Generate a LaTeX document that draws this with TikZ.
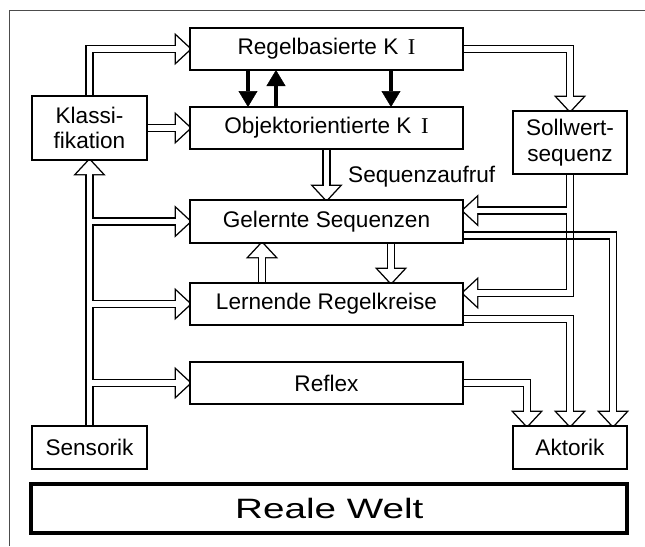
\documentclass[tikz,border=0pt]{standalone}
\usepackage{graphicx}
\usepackage{fontspec}
\setmainfont{Liberation Sans}
\newfontfamily\serI{Liberation Serif}
\usetikzlibrary{calc,arrows.meta}
\pgfdeclarelayer{bg}
\pgfsetlayers{bg,main}
\newcommand\hd[3]{\path[#1, shift={(#2)}, rotate=#3] (0,0) -- (-14,13) -- (-14,-13) -- cycle;}
\newcommand\pipes[2]{%
 \draw[#1] (sens.north) -- (klass.south);
 \draw[#1] (sens.north) |- (gel.west);
 \draw[#1] (sens.north) |- (lern.west);
 \draw[#1] (sens.north) |- (refl.west);
 \draw[#1] (klass.north) |- (regel.west);
 \draw[#1] (klass.east) -- (obj.west);
 \draw[#1] (regel.east) -| (soll.north);
 \draw[#1] (soll.south) |- (gin);
 \draw[#1] (soll.south) |- (lin);
 \draw[#1] (obj.south) -- (gel.north);
 \draw[#1] (gdn) -- (ldn);
 \draw[#1] (lup) -- (gup);
 \draw[#1] (gout) -| (a3);
 \draw[#1] (lout) -| (akt.north);
 \draw[#1] (refl.east) -| (a1);
 \hd{#2}{klass.south}{90}
 \hd{#2}{gel.west}{0}
 \hd{#2}{lern.west}{0}
 \hd{#2}{refl.west}{0}
 \hd{#2}{regel.west}{0}
 \hd{#2}{obj.west}{0}
 \hd{#2}{soll.north}{-90}
 \hd{#2}{gin}{180}
 \hd{#2}{lin}{180}
 \hd{#2}{gel.north}{-90}
 \hd{#2}{ldn}{-90}
 \hd{#2}{gup}{90}
 \hd{#2}{a3}{-90}
 \hd{#2}{akt.north}{-90}
 \hd{#2}{a1}{-90}
}
\begin{document}
\begin{tikzpicture}[x=1pt,y=1pt,
  kbox/.style={draw, line width=1.3pt, fill=white, inner sep=0pt, outer sep=0pt, align=center, font=\fontsize{22.6pt}{25.5pt}\selectfont},
  wbox/.style={kbox, minimum width=273pt, minimum height=42pt},
  sbox/.style={kbox, minimum width=115pt},
  pipeA/.style={line width=8.4pt, black, shorten >=12pt},
  pipeB/.style={line width=5.6pt, white, shorten >=12pt},
  headA/.style={draw=black, fill=black, line width=2.8pt, line join=miter},
  headB/.style={fill=white},
  blk/.style={line width=4pt, -{Triangle[length=16pt,width=19pt,line width=0.5pt]}},
  pedge/.style={line width=1.4pt},
]
\useasboundingbox (0,0) rectangle (645,-546);
\draw[line width=1pt, black!70] (9,-546) -- (9,-10) -- (645,-10);

\node[wbox] (regel) at (326.5,-49) {Regelbasierte K\hspace{0.42em}{\serI I}};
\node[wbox] (obj) at (326.5,-128) {Objektorientierte K\hspace{0.42em}{\serI I}};
\node[wbox, minimum height=43pt] (gel) at (326.5,-221.5) {Gelernte Sequenzen};
\node[wbox] (lern) at (326.5,-304) {Lernende Regelkreise};
\node[wbox] (refl) at (326.5,-383) {Reflex};
\node[sbox, minimum height=64pt] (klass) at (89.5,-128) {Klassi-\\fikation};
\node[sbox, minimum width=114pt, minimum height=63pt] (soll) at (570,-142.5) {Sollwert-\\sequenz};
\node[sbox, minimum height=43pt] (sens) at (89.5,-447.5) {Sensorik};
\node[sbox, minimum width=114pt, minimum height=43pt] (akt) at (570,-447.5) {Aktorik};
\node[draw, line width=4pt, inner sep=0pt, minimum width=596pt, minimum height=49.3pt,
  font=\fontsize{28pt}{30pt}\selectfont] (welt) at (329.3,-508.4) {\scalebox{1.38}[1]{Reale Welt}};
\node[anchor=base west, inner sep=0pt, font=\fontsize{22.6pt}{25.5pt}\selectfont] (seq) at (348,-182) {Sequenzaufruf};

\coordinate (gin) at ($(gel.east)+(0,11)$);
\coordinate (lin) at ($(lern.east)+(0,11)$);
\coordinate (gout) at ($(gel.east)+(0,-14)$);
\coordinate (lout) at ($(lern.east)+(0,-15)$);
\coordinate (a1) at ($(akt.north)+(-43,0)$);
\coordinate (a3) at ($(akt.north)+(43,0)$);
\coordinate (gdn) at ($(gel.south)+(64.5,0)$);
\coordinate (ldn) at ($(lern.north)+(64.5,0)$);
\coordinate (lup) at ($(lern.north)+(-64.5,0)$);
\coordinate (gup) at ($(gel.south)+(-64.5,0)$);
\coordinate (X) at (soll.south |- gout);

\begin{pgfonlayer}{bg}
\pipes{pipeA}{headA}
\pipes{pipeB}{headB}
\draw[pedge] ($(X)+(-3.5,-3.5)$) -- ++(0,7);
\draw[pedge] ($(X)+(3.5,-3.5)$) -- ++(0,7);
\draw[pedge] ($(X)+(-3.5,-3.5)$) -- ++(7,0);
\draw[pedge] ($(X)+(-3.5,3.5)$) -- ++(7,0);
\end{pgfonlayer}

\draw[blk] ($(regel.south)+(-78.5,0)$) -- ($(obj.north)+(-78.5,0)$);
\draw[blk] ($(obj.north)+(-50.5,0)$) -- ($(regel.south)+(-50.5,0)$);
\draw[blk] ($(regel.south)+(64.5,0)$) -- ($(obj.north)+(64.5,0)$);
\end{tikzpicture}
\end{document}
